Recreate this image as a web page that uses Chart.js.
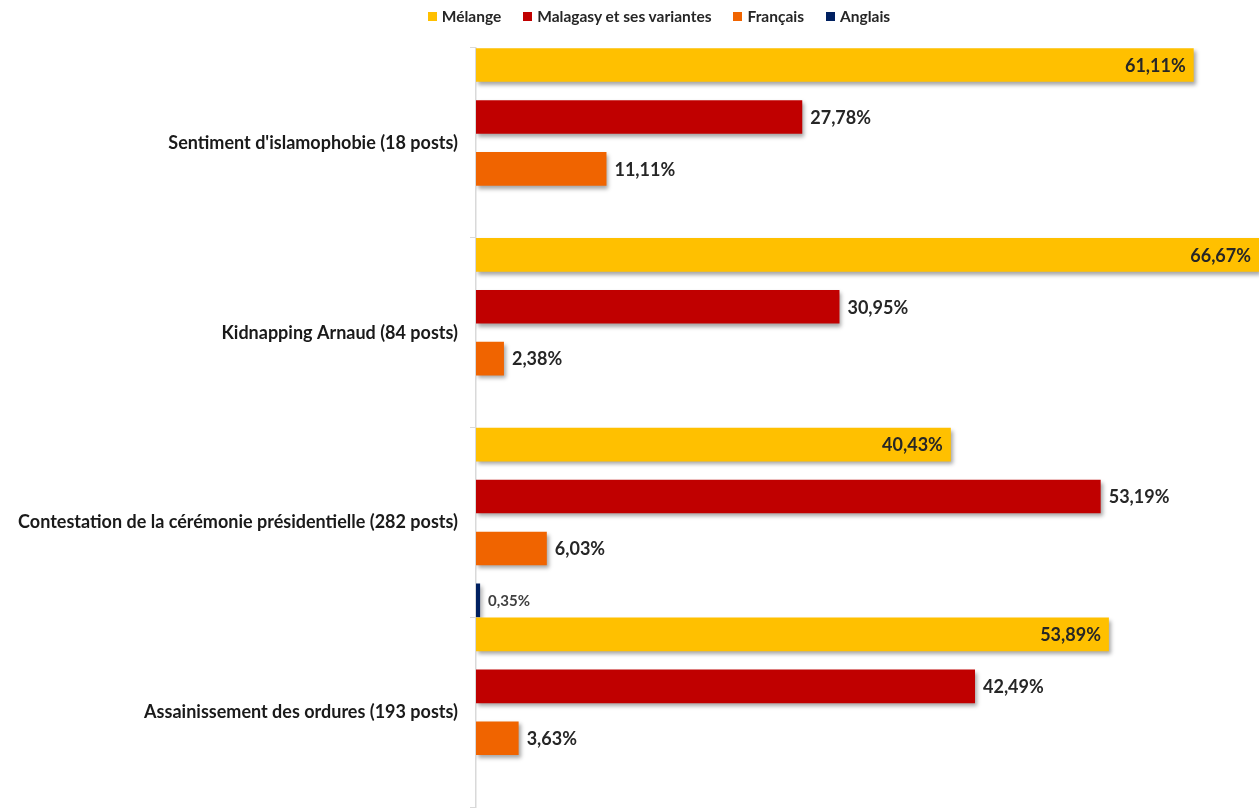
<!DOCTYPE html>
<html>
<head>
<meta charset="utf-8">
<script src="https://cdn.jsdelivr.net/npm/chart.js@4"></script>
<style>
    html, body { margin: 0; padding: 0; background: #fff; overflow: hidden; height: 808px; }
    #wrap { position: relative; width: 1259px; height: 830px; }
    #grafico { display: block; width: 1259px; height: 830px; }
    #legende {
        position: absolute; top: 7px; left: 0; width: 1318px;
        display: flex; justify-content: center; gap: 22px;
        font: bold 15.5px Lato, sans-serif; color: #262626;
    }
    #legende span { display: flex; align-items: center; }
    #legende i { display: inline-block; width: 9px; height: 9px; margin-right: 5px; }
</style>
</head>
<body>
<div id="wrap">
    <div id="legende"></div>
    <canvas id="grafico" width="1259" height="830"></canvas>
</div>
<script>
// Dados
const categorias = [
    "Sentiment d'islamophobie (18 posts)",
    'Kidnapping Arnaud (84 posts)',
    'Contestation de la cérémonie présidentielle (282 posts)',
    'Assainissement des ordures (193 posts)'
];
const series = ['Mélange', 'Malagasy et ses variantes', 'Français', 'Anglais'];
const melange = [61.11, 66.67, 40.43, 53.89];
const malagasy = [27.78, 30.95, 53.19, 42.49];
const francais = [11.11, 2.38, 6.03, 3.63];
const anglais = [null, null, 0.35, null];
const cores = ['#FFC000', '#C00000', '#F06400', '#002060'];

// Legenda em HTML
const legende = document.getElementById('legende');
series.forEach((nome, i) => {
    legende.innerHTML += `<span><i style="background:${cores[i]}"></i>${nome}</span>`;
});

// Sombra das barras
const sombra = {
    id: 'sombra',
    beforeDatasetsDraw(chart) {
        const ctx = chart.ctx;
        ctx.save();
        ctx.shadowColor = 'rgba(0,0,0,0.35)';
        ctx.shadowBlur = 4;
        ctx.shadowOffsetX = 2;
        ctx.shadowOffsetY = 3;
    },
    afterDatasetsDraw(chart) {
        chart.ctx.restore();
    }
};

// Rótulos de valores
const rotulos = {
    id: 'rotulos',
    afterDatasetsDraw(chart) {
        const ctx = chart.ctx;
        ctx.save();
        ctx.textBaseline = 'middle';
        chart.data.datasets.forEach((ds, i) => {
            const meta = chart.getDatasetMeta(i);
            meta.data.forEach((barra, j) => {
                const v = ds.data[j];
                if (v === null) return;
                const texto = v.toFixed(2).replace('.', ',') + '%';
                if (i === 0) {
                    ctx.font = 'bold 18px Lato, sans-serif';
                    ctx.fillStyle = '#262626';
                    ctx.textAlign = 'right';
                    ctx.fillText(texto, barra.x - 8, barra.y + 1);
                } else if (i === 3) {
                    ctx.font = 'bold 15px Lato, sans-serif';
                    ctx.fillStyle = '#404040';
                    ctx.textAlign = 'left';
                    ctx.fillText(texto, barra.x + 8, barra.y + 1);
                } else {
                    ctx.font = 'bold 18px Lato, sans-serif';
                    ctx.fillStyle = '#262626';
                    ctx.textAlign = 'left';
                    ctx.fillText(texto, barra.x + 8, barra.y + 1);
                }
            });
        });
        ctx.restore();
    }
};

const dados = [melange, malagasy, francais, anglais];

new Chart(document.getElementById('grafico'), {
    type: 'bar',
    data: {
        labels: categorias,
        datasets: series.map((nome, i) => ({
            label: nome,
            data: dados[i],
            backgroundColor: cores[i],
            categoryPercentage: 1.094,
            barPercentage: 0.648
        }))
    },
    options: {
        indexAxis: 'y',
        responsive: false,
        animation: false,
        layout: { padding: { top: 48, right: 0, left: 0, bottom: 14 } },
        plugins: {
            legend: { display: false },
            tooltip: { enabled: false }
        },
        scales: {
            x: { display: false, min: 0, max: 66.67 },
            y: {
                afterFit(scale) { scale.width = 476; },
                grid: {
                    drawOnChartArea: false,
                    drawTicks: true,
                    tickLength: 6,
                    color: '#d9d9d9'
                },
                border: { display: true, color: '#d9d9d9', width: 1.5 },
                ticks: {
                    padding: 12,
                    color: '#1a1a1a',
                    font: { family: 'Lato', weight: 'bold', size: 18 }
                }
            }
        }
    },
    plugins: [sombra, rotulos]
});
</script>
</body>
</html>
